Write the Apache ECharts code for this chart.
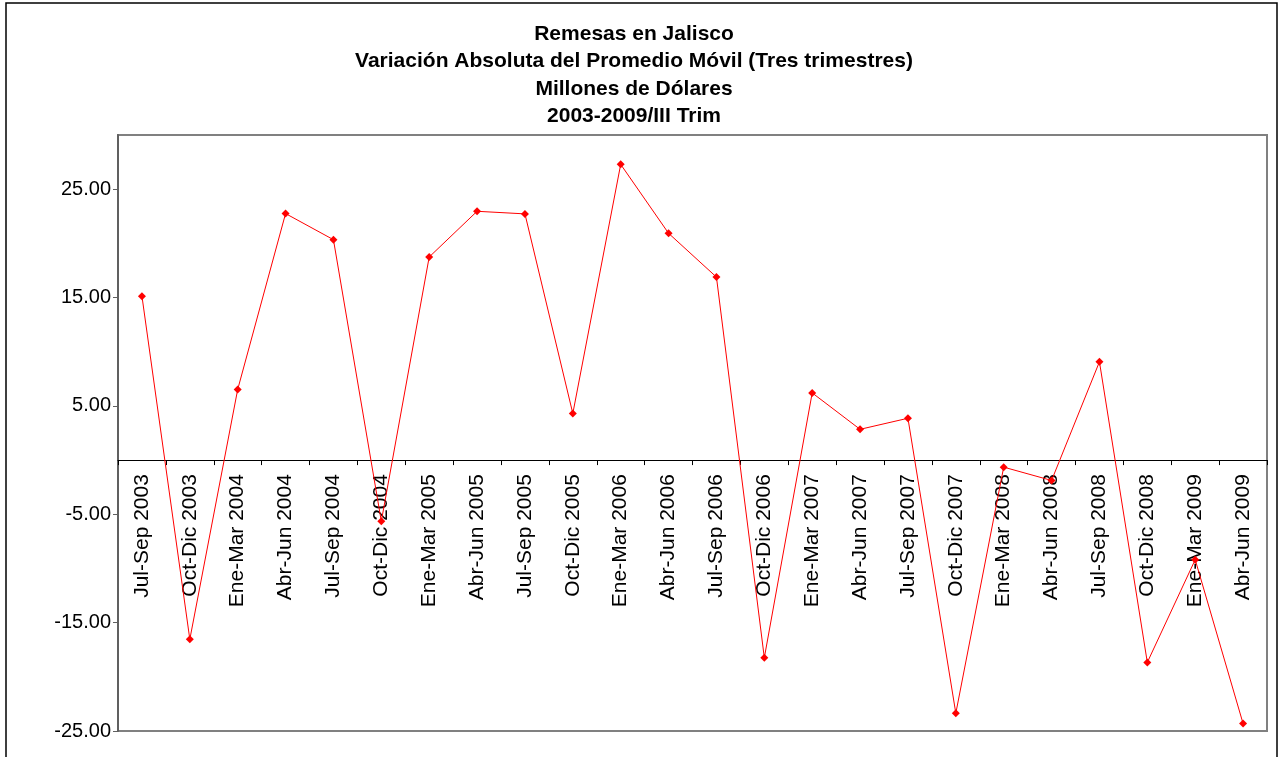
<!DOCTYPE html>
<html>
<head>
<meta charset="utf-8">
<script src="https://cdn.jsdelivr.net/npm/echarts@6/dist/echarts.min.js"></script>
<style>
  html, body { margin: 0; padding: 0; background: #fff; }
  #chart { width: 1278px; height: 757px; }
</style>
</head>
<body>
<div id="chart"></div>
<script>
// trimestres
const periodos = [
  'Jul-Sep 2003', 'Oct-Dic 2003', 'Ene-Mar 2004', 'Abr-Jun 2004', 'Jul-Sep 2004', 'Oct-Dic 2004',
  'Ene-Mar 2005', 'Abr-Jun 2005', 'Jul-Sep 2005', 'Oct-Dic 2005', 'Ene-Mar 2006', 'Abr-Jun 2006',
  'Jul-Sep 2006', 'Oct-Dic 2006', 'Ene-Mar 2007', 'Abr-Jun 2007', 'Jul-Sep 2007', 'Oct-Dic 2007',
  'Ene-Mar 2008', 'Abr-Jun 2008', 'Jul-Sep 2008', 'Oct-Dic 2008', 'Ene-Mar 2009', 'Abr-Jun 2009'
]
// variacion absoluta (millones de dolares)
const variacion = [
  15.13, -16.54, 6.52, 22.75, 20.34, -5.65,
  18.74, 22.96, 22.72, 4.30, 27.29, 20.93,
  16.89, -18.24, 6.20, 2.84, 3.86, -23.36,
  -0.65, -1.88, 9.07, -18.67, -9.19, -24.31
]
const yTicks = [-25, -15, -5, 5, 15, 25]
const titulo = [
  'Remesas en Jalisco',
  'Variación Absoluta del Promedio Móvil (Tres trimestres)',
  'Millones de Dólares',
  '2003-2009/III Trim'
]

const fuente = "'Liberation Sans', Arial, sans-serif"
const yMin = -25
const yMax = 30
const gridTop = 135
const gridBottom = 26
const plotH = 757 - gridTop - gridBottom
// el eje de categorias cruza en cero: se sube desde el borde inferior
const offsetCero = -plotH * (0 - yMin) / (yMax - yMin)

const chart = echarts.init(document.getElementById('chart'))

chart.setOption({
  backgroundColor: '#fff',
  animation: false,
  textStyle: { fontFamily: fuente },
  title: {
    text: titulo.join('\n'),
    left: 634,
    top: 20,
    padding: 0,
    textAlign: 'center',
    textStyle: {
      fontFamily: fuente,
      fontSize: 21,
      fontWeight: 'bold',
      color: '#000',
      lineHeight: 27.5
    }
  },
  graphic: [{
    type: 'rect',
    shape: { x: 6, y: 3, width: 1271, height: 800 },
    style: { fill: 'none', stroke: '#000', lineWidth: 1.5 },
    silent: true
  }],
  grid: {
    left: 118,
    right: 11,
    top: gridTop,
    bottom: gridBottom,
    show: true,
    borderColor: '#808080',
    borderWidth: 2,
    outerBoundsMode: 'none'
  },
  xAxis: {
    type: 'category',
    data: periodos,
    boundaryGap: true,
    position: 'bottom',
    offset: offsetCero,
    axisLine: { onZero: false, lineStyle: { color: '#000', width: 1 } },
    axisTick: { show: true, length: 5, lineStyle: { color: '#000' } },
    axisLabel: {
      rotate: 90,
      interval: 0,
      margin: 14,
      fontSize: 21,
      fontFamily: fuente,
      color: '#000'
    },
    splitLine: { show: false }
  },
  yAxis: {
    type: 'value',
    min: yMin,
    max: yMax,
    interval: 10,
    axisLine: { show: true, lineStyle: { color: '#606060', width: 2 } },
    axisTick: { show: true, length: 5, customValues: yTicks, lineStyle: { color: '#606060' } },
    axisLabel: {
      customValues: yTicks,
      margin: 7,
      fontSize: 20,
      fontFamily: fuente,
      color: '#000',
      formatter: v => v.toFixed(2)
    },
    splitLine: { show: false }
  },
  series: [{
    type: 'line',
    data: variacion,
    symbol: 'diamond',
    symbolSize: 8,
    itemStyle: { color: '#ff0000' },
    lineStyle: { color: '#ff0000', width: 1 }
  }]
})
</script>
</body>
</html>
